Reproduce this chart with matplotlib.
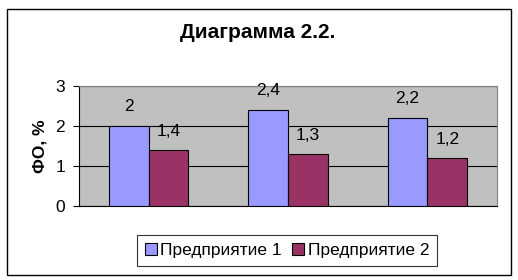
import matplotlib
matplotlib.use("Agg")
import matplotlib.pyplot as plt
from matplotlib.patches import Rectangle
import numpy as np

plt.rcParams['font.family'] = ['Liberation Sans', 'DejaVu Sans']

categories = ["1", "2", "3"]
series_names = ["Предприятие 1", "Предприятие 2"]
values1 = [2.0, 2.4, 2.2]
values2 = [1.4, 1.3, 1.2]
labels1 = ["2", "2,4", "2,2"]
labels2 = ["1,4", "1,3", "1,2"]
yticks = [0, 1, 2, 3]

W, H = 518, 280
fig = plt.figure(figsize=(W/100, H/100), dpi=100)
fig.patch.set_facecolor('white')
fig.patches.append(Rectangle((7/W, 5/H), (511-7)/W, (273-7)/H, transform=fig.transFigure,
                             fill=False, edgecolor='black', linewidth=1.0))

ax = fig.add_axes([79/W, 1-205.5/H, (497-79)/W, (205.5-86)/H])
ax.set_facecolor('#C0C0C0')
x = np.arange(len(categories))
bw = 1/3.5
b1 = ax.bar(x - bw/2, values1, bw, color='#9999FF', edgecolor='black', linewidth=0.8, zorder=3)
b2 = ax.bar(x + bw/2, values2, bw, color='#993366', edgecolor='black', linewidth=0.8, zorder=3)
for r, t in zip(b1, labels1):
    ax.annotate(t, (r.get_x()+r.get_width()/2, r.get_height()), xytext=(0, 14), textcoords='offset points',
                ha='center', va='center', fontsize=12.5)
for r, t in zip(b2, labels2):
    ax.annotate(t, (r.get_x()+r.get_width()/2, r.get_height()), xytext=(0, 13), textcoords='offset points',
                ha='center', va='center', fontsize=12.5)

ax.set_xlim(-0.5, 2.5)
ax.set_ylim(0, 3)
ax.set_yticks(yticks)
ax.set_yticklabels([str(v) for v in yticks], fontsize=12.5)
ax.set_xticks([])
ax.yaxis.grid(True, color='black', linewidth=0.8, zorder=1)
ax.set_axisbelow(True)
ax.tick_params(axis='y', direction='out', length=4, width=0.8, pad=6)
for s in ['top', 'right']:
    ax.spines[s].set_color('#808080')
    ax.spines[s].set_linewidth(0.8)
for s in ['left', 'bottom']:
    ax.spines[s].set_color('black')
    ax.spines[s].set_linewidth(0.8)
ax.set_ylabel("ФО, %", fontsize=12.5, fontweight='bold', labelpad=6)

fig.text(258/W, 1-33/H, "Диаграмма 2.2.", ha='center', va='center', fontsize=15, fontweight='bold')

leg = fig.legend([b1, b2], series_names, loc='center', bbox_to_anchor=(287/W, 1-250.5/H), ncol=2,
                 fontsize=12.5, frameon=True, fancybox=False, edgecolor='black', handlelength=0.7,
                 handleheight=0.7, handletextpad=0.2, columnspacing=0.6, borderpad=0.45)
leg.get_frame().set_linewidth(0.8)

fig.savefig("out.png", dpi=100)
